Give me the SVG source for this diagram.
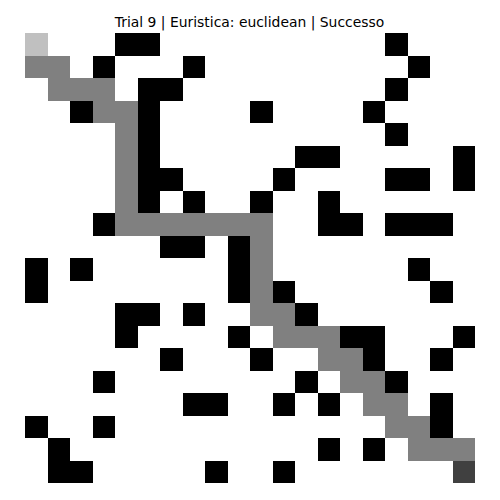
<svg xmlns="http://www.w3.org/2000/svg" width="500" height="500" viewBox="0 0 500 500">
<style>
.w{fill:#ffffff}
.b{fill:#000000}
.p{fill:#808080}
.s{fill:#c0c0c0}
.g{fill:#404040}
.t{font-family:"DejaVu Sans","Liberation Sans",sans-serif;font-size:13.9px;fill:#000}
</style>
<rect width="500" height="500" fill="#ffffff"/>
<text class="t" x="249.5" y="26.5" text-anchor="middle">Trial 9 | Euristica: euclidean | Successo</text>
<g id="grid" transform="translate(25,33) scale(22.5)" shape-rendering="crispEdges">
<rect class="w" x="0" y="0" width="20" height="20"/>
<g id="obstacles">
<rect class="b" x="4" y="0" width="2" height="1"/><rect class="b" x="16" y="0" width="1" height="1"/>
<rect class="b" x="3" y="1" width="1" height="1"/><rect class="b" x="7" y="1" width="1" height="1"/><rect class="b" x="17" y="1" width="1" height="1"/>
<rect class="b" x="5" y="2" width="2" height="1"/><rect class="b" x="16" y="2" width="1" height="1"/>
<rect class="b" x="2" y="3" width="1" height="1"/><rect class="b" x="5" y="3" width="1" height="1"/><rect class="b" x="10" y="3" width="1" height="1"/><rect class="b" x="15" y="3" width="1" height="1"/>
<rect class="b" x="5" y="4" width="1" height="1"/><rect class="b" x="16" y="4" width="1" height="1"/>
<rect class="b" x="5" y="5" width="1" height="1"/><rect class="b" x="12" y="5" width="2" height="1"/><rect class="b" x="19" y="5" width="1" height="1"/>
<rect class="b" x="5" y="6" width="2" height="1"/><rect class="b" x="11" y="6" width="1" height="1"/><rect class="b" x="16" y="6" width="2" height="1"/><rect class="b" x="19" y="6" width="1" height="1"/>
<rect class="b" x="5" y="7" width="1" height="1"/><rect class="b" x="7" y="7" width="1" height="1"/><rect class="b" x="10" y="7" width="1" height="1"/><rect class="b" x="13" y="7" width="1" height="1"/>
<rect class="b" x="3" y="8" width="1" height="1"/><rect class="b" x="13" y="8" width="2" height="1"/><rect class="b" x="16" y="8" width="3" height="1"/>
<rect class="b" x="6" y="9" width="2" height="1"/><rect class="b" x="9" y="9" width="1" height="1"/>
<rect class="b" x="0" y="10" width="1" height="1"/><rect class="b" x="2" y="10" width="1" height="1"/><rect class="b" x="9" y="10" width="1" height="1"/><rect class="b" x="17" y="10" width="1" height="1"/>
<rect class="b" x="0" y="11" width="1" height="1"/><rect class="b" x="9" y="11" width="1" height="1"/><rect class="b" x="11" y="11" width="1" height="1"/><rect class="b" x="18" y="11" width="1" height="1"/>
<rect class="b" x="4" y="12" width="2" height="1"/><rect class="b" x="7" y="12" width="1" height="1"/><rect class="b" x="12" y="12" width="1" height="1"/>
<rect class="b" x="4" y="13" width="1" height="1"/><rect class="b" x="9" y="13" width="1" height="1"/><rect class="b" x="14" y="13" width="2" height="1"/><rect class="b" x="19" y="13" width="1" height="1"/>
<rect class="b" x="6" y="14" width="1" height="1"/><rect class="b" x="10" y="14" width="1" height="1"/><rect class="b" x="15" y="14" width="1" height="1"/><rect class="b" x="18" y="14" width="1" height="1"/>
<rect class="b" x="3" y="15" width="1" height="1"/><rect class="b" x="12" y="15" width="1" height="1"/><rect class="b" x="16" y="15" width="1" height="1"/>
<rect class="b" x="7" y="16" width="2" height="1"/><rect class="b" x="11" y="16" width="1" height="1"/><rect class="b" x="13" y="16" width="1" height="1"/><rect class="b" x="18" y="16" width="1" height="1"/>
<rect class="b" x="0" y="17" width="1" height="1"/><rect class="b" x="3" y="17" width="1" height="1"/><rect class="b" x="18" y="17" width="1" height="1"/>
<rect class="b" x="1" y="18" width="1" height="1"/><rect class="b" x="13" y="18" width="1" height="1"/><rect class="b" x="15" y="18" width="1" height="1"/>
<rect class="b" x="1" y="19" width="2" height="1"/><rect class="b" x="8" y="19" width="1" height="1"/><rect class="b" x="11" y="19" width="1" height="1"/>
</g>
<g id="path">
<rect class="p" x="0" y="1" width="2" height="1"/>
<rect class="p" x="1" y="2" width="3" height="1"/>
<rect class="p" x="3" y="3" width="2" height="1"/>
<rect class="p" x="4" y="4" width="1" height="4"/>
<rect class="p" x="4" y="8" width="7" height="1"/>
<rect class="p" x="10" y="9" width="1" height="3"/>
<rect class="p" x="10" y="12" width="2" height="1"/>
<rect class="p" x="11" y="13" width="3" height="1"/>
<rect class="p" x="13" y="14" width="2" height="1"/>
<rect class="p" x="14" y="15" width="2" height="1"/>
<rect class="p" x="15" y="16" width="2" height="1"/>
<rect class="p" x="16" y="17" width="2" height="1"/>
<rect class="p" x="17" y="18" width="3" height="1"/>
</g>
<rect id="start" class="s" x="0" y="0" width="1" height="1"/>
<rect id="goal" class="g" x="19" y="19" width="1" height="1"/>
</g>
</svg>
